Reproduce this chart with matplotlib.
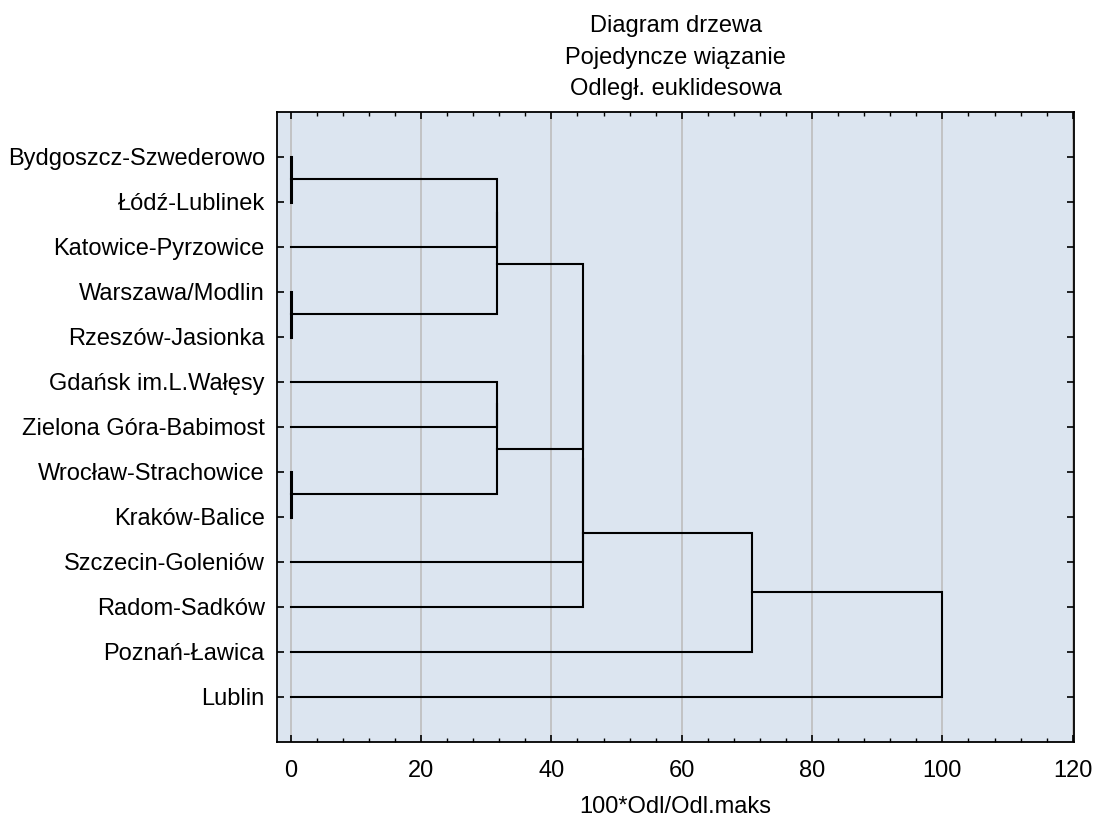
import matplotlib.pyplot as plt
from matplotlib.ticker import MultipleLocator

plt.rcParams['font.family'] = ['Liberation Sans', 'DejaVu Sans']

# liscie w kolejnosci od gory
labels = ["Bydgoszcz-Szwederowo", "Łódź-Lublinek", "Katowice-Pyrzowice",
          "Warszawa/Modlin", "Rzeszów-Jasionka", "Gdańsk im.L.Wałęsy",
          "Zielona Góra-Babimost", "Wrocław-Strachowice", "Kraków-Balice",
          "Szczecin-Goleniów", "Radom-Sadków", "Poznań-Ławica", "Lublin"]

# laczenia (jak w scipy linkage): nowy klaster = n + numer wiersza
merge_a = [0, 3, 7, 13, 16, 5, 18, 17, 20, 21, 22, 23]
merge_b = [1, 4, 8, 2, 14, 6, 15, 19, 9, 10, 11, 12]
merge_h = [0.0, 0.0, 0.0, 31.7, 31.7, 31.7, 31.7, 44.8, 44.8, 44.8, 70.8, 100.0]

n = len(labels)
pos = {i: i + 1 for i in range(n)}
hgt = {i: 0.0 for i in range(n)}

fig = plt.figure(figsize=(10.97, 8.18), dpi=100)
ax = fig.add_axes([0.2528, 0.0933, 0.7263, 0.7702])
ax.set_facecolor('#dce5f0')

for k, (a, b, h) in enumerate(zip(merge_a, merge_b, merge_h)):
    lw = 2.2 if h == 0 else 1.5
    ax.plot([hgt[a], h, h, hgt[b]], [pos[a], pos[a], pos[b], pos[b]],
            color='black', lw=lw, solid_joinstyle='miter', zorder=3)
    pos[n + k] = (pos[a] + pos[b]) / 2
    hgt[n + k] = h

fs = 17
ax.set_xlim(-2.05, 120.2)
ax.set_ylim(n + 1, 0)
ax.set_yticks(range(1, n + 1))
ax.set_yticklabels(labels, fontsize=fs)
ax.xaxis.set_major_locator(MultipleLocator(20))
ax.xaxis.set_minor_locator(MultipleLocator(4))
ax.tick_params(axis='x', which='major', direction='in', length=5, width=1.2,
               top=True, labelsize=fs, pad=13)
ax.tick_params(axis='x', which='minor', direction='in', length=3, width=1, top=True)
ax.tick_params(axis='y', direction='in', length=5, width=1.2, right=True,
               labelsize=fs, pad=9)
ax.grid(axis='x', which='major', color='#bdbdbd', lw=1.2, zorder=1)
for s in ax.spines.values():
    s.set_linewidth(1.3)

ax.set_xlabel("100*Odl/Odl.maks", fontsize=fs, labelpad=10)
ax.set_title("Diagram drzewa\nPojedyncze wiązanie\nOdległ. euklidesowa",
             fontsize=fs, linespacing=1.55, pad=12)

plt.savefig("out.png", dpi=100)
